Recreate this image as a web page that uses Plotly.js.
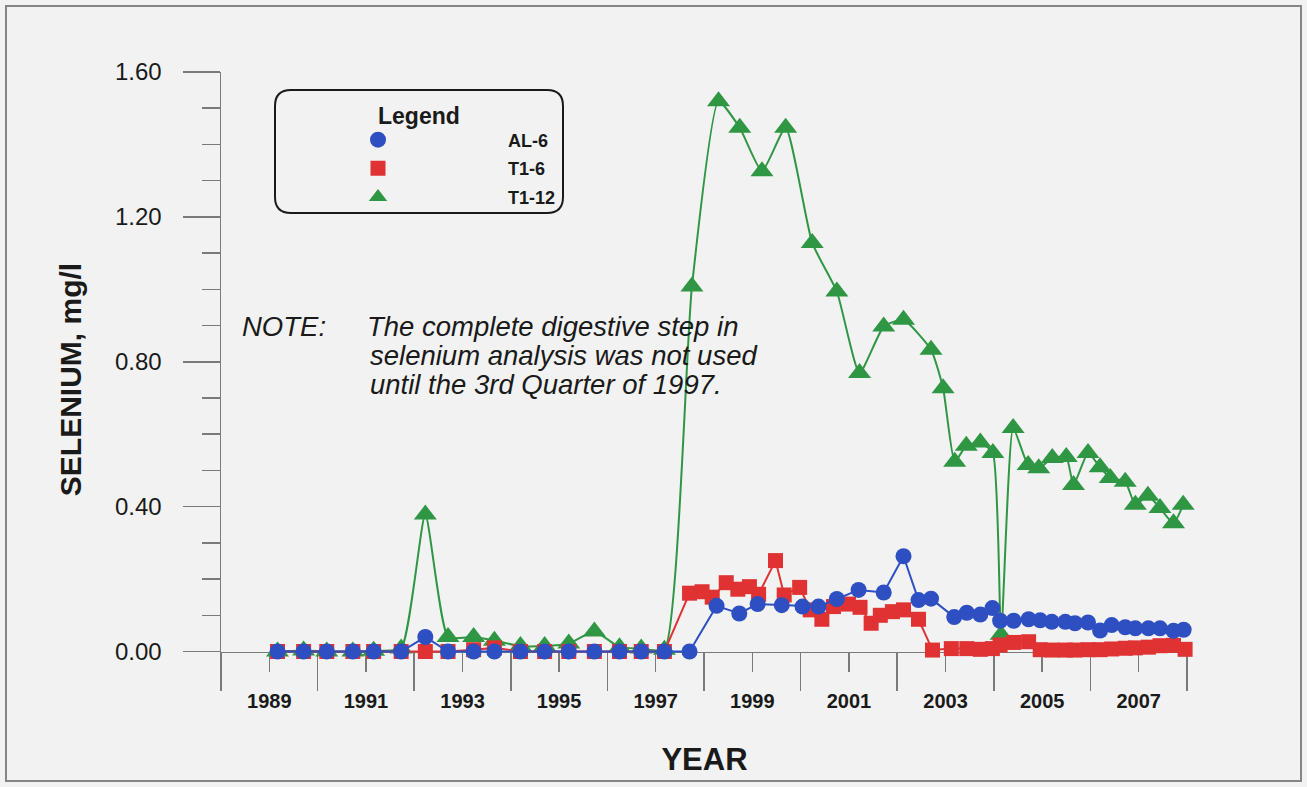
<!DOCTYPE html>
<html><head><meta charset="utf-8">
<script src="https://cdn.plot.ly/plotly-3.0.1.min.js"></script>
<style>html,body{margin:0;padding:0;background:#f2f2f2;} #chart{width:1307px;height:787px;}</style>
</head><body><div id="chart"></div>
<script>
// ---- data (decimal years, selenium mg/l) ----
const al6Years = [1989.17,1989.71,1990.19,1990.73,1991.16,1991.73,1992.23,1992.70,1993.23,1993.66,1994.20,1994.70,1995.20,1995.73,1996.25,1996.70,1997.18,1997.70,
  1998.26,1998.73,1999.11,1999.61,2000.04,2000.37,2000.75,2001.20,2001.72,2002.13,2002.44,2002.70,2003.18,2003.44,2003.72,2003.97,
  2004.13,2004.41,2004.72,2004.96,2005.20,2005.48,2005.68,2005.95,2006.20,2006.44,2006.72,2006.93,2007.20,2007.44,2007.72,2007.93];
const al6Values = [0,0,0,0,0,0,0.04,0,0,0,0,0,0,0,0,0,0,0,
  0.126,0.105,0.131,0.128,0.124,0.124,0.145,0.170,0.163,0.263,0.142,0.146,0.095,0.107,0.102,0.120,
  0.085,0.085,0.089,0.086,0.082,0.082,0.078,0.080,0.058,0.073,0.067,0.064,0.064,0.064,0.057,0.060];

const t16Years = [1989.17,1989.71,1990.19,1990.73,1991.16,1991.73,1992.23,1992.70,1993.23,1993.66,1994.20,1994.70,1995.20,1995.73,1996.25,1996.70,1997.18,
  1997.70,1997.96,1998.17,1998.46,1998.70,1998.94,1999.13,1999.48,1999.66,1999.98,2000.20,2000.44,2000.68,2000.99,2001.23,2001.46,2001.65,2001.90,
  2002.13,2002.44,2002.73,2003.12,2003.44,2003.72,2003.97,2004.13,2004.41,2004.72,2004.96,2005.20,2005.48,2005.68,2005.95,2006.20,2006.44,2006.72,
  2006.93,2007.20,2007.44,2007.72,2007.96];
const t16Values = [0,0,0,0,0,0,0,0,0.005,0.01,0,0,0,0,0,0,0,
  0.161,0.165,0.150,0.190,0.172,0.179,0.158,0.251,0.156,0.177,0.115,0.089,0.124,0.131,0.122,0.078,0.100,0.110,
  0.115,0.089,0.004,0.008,0.008,0.006,0.008,0.018,0.025,0.027,0.005,0.004,0.004,0.004,0.005,0.005,0.007,0.009,
  0.010,0.012,0.016,0.017,0.006];

const t112Years = [1989.17,1989.71,1990.19,1990.73,1991.16,1991.73,1992.23,1992.70,1993.23,1993.66,1994.20,1994.70,1995.20,1995.73,1996.25,1996.70,1997.18,
  1997.75,1998.30,1998.74,1999.20,1999.69,2000.24,2000.75,2001.22,2001.72,2002.13,2002.70,2002.95,2003.19,2003.43,2003.72,2003.98,
  2004.15,2004.40,2004.71,2004.93,2005.21,2005.50,2005.65,2005.95,2006.20,2006.41,2006.72,2006.93,2007.19,2007.44,2007.72,2007.92];
const t112Values = [0,0.003,0,0,0.002,0.008,0.378,0.040,0.040,0.030,0.015,0.015,0.022,0.055,0.012,0.008,0.005,
  1.008,1.519,1.446,1.326,1.446,1.128,0.994,0.769,0.897,0.916,0.833,0.727,0.524,0.568,0.577,0.548,
  0.046,0.617,0.515,0.506,0.534,0.537,0.460,0.548,0.509,0.479,0.469,0.405,0.430,0.396,0.354,0.405];

const seriesNames = ['AL-6','T1-6','T1-12'];
const xTickYears = [1989,1991,1993,1995,1997,1999,2001,2003,2005,2007];
const xTickLabels = ['1989','1991','1993','1995','1997','1999','2001','2003','2005','2007'];
const xLongTickYears = [1988,1990,1992,1994,1996,1998,2000,2002,2004,2006,2008];
const yTickVals = [0,0.4,0.8,1.2,1.6];
const yTickLabels = ['0.00','0.40','0.80','1.20','1.60'];
const yMinorVals = [0.1,0.2,0.3,0.5,0.6,0.7,0.9,1.0,1.1,1.3,1.4,1.5];
const noteLines = ['The complete digestive step in','selenium analysis was not used','until the 3rd Quarter of 1997.'];

// ---- layout geometry ----
const FONT = 'Liberation Sans, Arial, Helvetica, sans-serif';
const W = 1307, Hh = 787;
const M = {l:221, r:119, t:72, b:100};
const PW = W - M.l - M.r, PH = Hh - M.t - M.b;
const px2x = p => (p - M.l) / PW;
const px2y = p => (M.t + PH - p) / PH;
const yLow = -0.098, yHigh = 1.6;

function roundRect(x0,y0,x1,y1,r){
  const a=px2x(x0), b=px2x(x1), top=px2y(y0), bot=px2y(y1);
  const rx=r/PW, ry=r/PH;
  return `M${a+rx},${top} L${b-rx},${top} Q${b},${top} ${b},${top-ry} L${b},${bot+ry} Q${b},${bot} ${b-rx},${bot} L${a+rx},${bot} Q${a},${bot} ${a},${bot+ry} L${a},${top-ry} Q${a},${top} ${a+rx},${top} Z`;
}

const blue='#2d4fc2', red='#e03232', green='#2f9644';
const mkAL = {symbol:'circle',size:16,color:blue};
const mkT6 = {symbol:'square',size:15,color:red};
const mkT12 = {symbol:'triangle-up',size:20,color:green};
const traces = [
  {x:t112Years, y:t112Values, name:seriesNames[2], type:'scatter', mode:'lines+markers', showlegend:false, cliponaxis:false,
   line:{color:green,width:2,shape:'spline',smoothing:0.5}, marker:mkT12},
  {x:t16Years, y:t16Values, name:seriesNames[1], type:'scatter', mode:'lines+markers', showlegend:false, cliponaxis:false,
   line:{color:red,width:2}, marker:mkT6},
  {x:al6Years, y:al6Values, name:seriesNames[0], type:'scatter', mode:'lines+markers', showlegend:false, cliponaxis:false,
   line:{color:blue,width:2}, marker:mkAL},
  // legend entries (markers only, as in the original key)
  {x:[null], y:[null], name:seriesNames[0], type:'scatter', mode:'markers', legendgroup:'g1', legendrank:1, marker:mkAL},
  {x:[null], y:[null], name:seriesNames[1], type:'scatter', mode:'markers', legendgroup:'g2', legendrank:2, marker:mkT6},
  {x:[null], y:[null], name:seriesNames[2], type:'scatter', mode:'markers', legendgroup:'g3', legendrank:3, marker:mkT12}
];

const axisGray='#7a7a7a';
const layout = {
  width:W, height:Hh, margin:M,
  paper_bgcolor:'#f2f2f2', plot_bgcolor:'rgba(0,0,0,0)',
  font:{family:FONT,color:'#1a1a1a'},
  showlegend:true,
  xaxis:{range:[1988,2008.02], anchor:'free', position:(0-yLow)/(yHigh-yLow),
    showline:true, linecolor:axisGray, linewidth:1.5, showgrid:false, zeroline:false, layer:'below traces',
    ticks:'outside', tickmode:'array', tickvals:xTickYears, ticktext:xTickLabels, ticklen:19, tickwidth:1.5, tickcolor:axisGray,
    tickfont:{size:20,family:FONT,weight:'bold',color:'#1a1a1a'}, ticklabelstandoff:12,
    minor:{ticks:'outside', tickmode:'array', tickvals:xLongTickYears, ticklen:38, tickwidth:1.5, tickcolor:axisGray, showgrid:false},
    title:{text:'YEAR', font:{size:31,family:FONT,weight:'bold',color:'#1a1a1a'}, standoff:37}},
  yaxis:{range:[yLow,yHigh], showline:true, linecolor:axisGray, linewidth:1.5, showgrid:false, zeroline:false,
    ticks:'outside', tickmode:'array', tickvals:yTickVals, ticktext:yTickLabels, ticklen:37, tickwidth:1.5, tickcolor:axisGray,
    tickfont:{size:24,family:FONT,color:'#1a1a1a'}, ticklabelstandoff:16,
    minor:{ticks:'outside', tickmode:'array', tickvals:yMinorVals, ticklen:18, tickwidth:1.5, tickcolor:axisGray, showgrid:false},
    title:{text:'SELENIUM, mg/l', font:{size:30,family:FONT,weight:'bold',color:'#1a1a1a'}, standoff:24}},
  legend:{x:px2x(248), y:px2y(121.5), xanchor:'left', yanchor:'top', bgcolor:'rgba(0,0,0,0)', borderwidth:0,
    font:{size:18,family:FONT,weight:'bold',color:'#1a1a1a'}, itemwidth:250, tracegroupgap:2.2},
  shapes:[
    {type:'rect', xref:'paper', yref:'paper', x0:px2x(6), x1:px2x(1301), y0:px2y(781), y1:px2y(6),
     line:{color:'#858585',width:2}, fillcolor:'rgba(0,0,0,0)', layer:'below'},
    {type:'path', xref:'paper', yref:'paper', path:roundRect(275,90,563,213,16),
     line:{color:'#1a1a1a',width:2}, fillcolor:'rgba(0,0,0,0)', layer:'above'}
  ],
  annotations:[
    {xref:'paper', yref:'paper', x:px2x(418.5), y:px2y(116), xanchor:'center', yanchor:'middle', showarrow:false,
     text:'Legend', font:{size:23,family:FONT,weight:'bold',color:'#1a1a1a'}},
    {xref:'paper', yref:'paper', x:px2x(240), y:px2y(326), xanchor:'left', yanchor:'middle', showarrow:false,
     text:'NOTE:', font:{size:27.5,family:FONT,style:'italic',color:'#1a1a1a'}},
    {xref:'paper', yref:'paper', x:px2x(365), y:px2y(326), xanchor:'left', yanchor:'middle', showarrow:false,
     text:noteLines[0], font:{size:27.5,family:FONT,style:'italic',color:'#1a1a1a'}},
    {xref:'paper', yref:'paper', x:px2x(368), y:px2y(355), xanchor:'left', yanchor:'middle', showarrow:false,
     text:noteLines[1], font:{size:27.5,family:FONT,style:'italic',color:'#1a1a1a'}},
    {xref:'paper', yref:'paper', x:px2x(368), y:px2y(384), xanchor:'left', yanchor:'middle', showarrow:false,
     text:noteLines[2], font:{size:27.5,family:FONT,style:'italic',color:'#1a1a1a'}}
  ]
};

Plotly.newPlot('chart', traces, layout, {displayModeBar:false, staticPlot:true});
</script>
</body></html>
